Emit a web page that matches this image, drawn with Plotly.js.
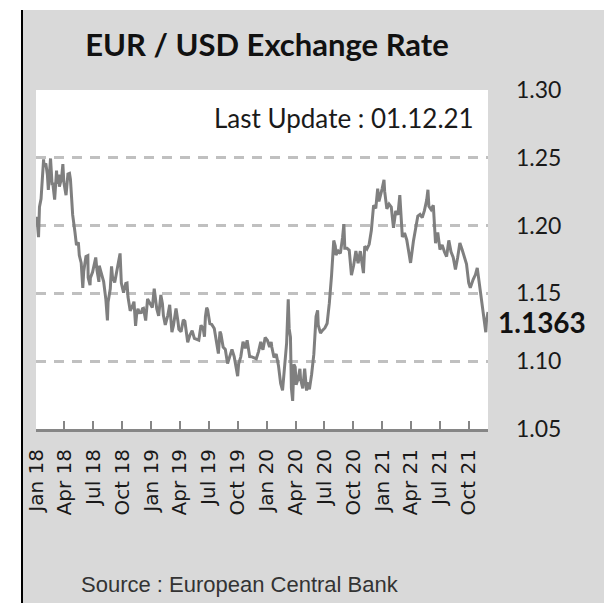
<!DOCTYPE html>
<html>
<head>
<meta charset="utf-8">
<script src="https://cdn.plot.ly/plotly-3.0.1.min.js"></script>
<style>html,body{margin:0;padding:0;background:#fff;}#chart{width:604px;height:603px;}</style>
</head>
<body>
<div id="chart"></div>
<script>
// EUR/USD reference rates
const dates = [
"2018-01-02","2018-01-05","2018-01-09","2018-01-12","2018-01-17","2018-01-19","2018-01-25","2018-01-26",
"2018-02-01","2018-02-06","2018-02-09","2018-02-16","2018-02-21","2018-02-23","2018-03-01","2018-03-07",
"2018-03-09","2018-03-14","2018-03-16","2018-03-23","2018-03-27","2018-03-30","2018-04-06","2018-04-12",
"2018-04-17","2018-04-20","2018-04-27","2018-05-04","2018-05-09","2018-05-15","2018-05-18","2018-05-24",
"2018-05-29","2018-06-01","2018-06-08","2018-06-14","2018-06-15","2018-06-21","2018-06-22","2018-06-29",
"2018-07-06","2018-07-09","2018-07-13","2018-07-19","2018-07-20","2018-07-27","2018-08-03","2018-08-10",
"2018-08-15","2018-08-17","2018-08-24","2018-08-28","2018-08-31","2018-09-07","2018-09-14","2018-09-21",
"2018-09-24","2018-09-28","2018-10-05","2018-10-12","2018-10-16","2018-10-19","2018-10-26","2018-11-02",
"2018-11-07","2018-11-12","2018-11-16","2018-11-20","2018-11-23","2018-11-30","2018-12-04","2018-12-07",
"2018-12-14","2018-12-20","2018-12-27",
"2019-01-04","2019-01-10","2019-01-15","2019-01-18","2019-01-24","2019-01-31","2019-02-05","2019-02-08",
"2019-02-14","2019-02-22","2019-02-28","2019-03-07","2019-03-12","2019-03-15","2019-03-20","2019-03-26",
"2019-03-29","2019-04-05","2019-04-12","2019-04-17","2019-04-26","2019-05-03","2019-05-10","2019-05-17",
"2019-05-23","2019-05-31","2019-06-07","2019-06-14","2019-06-18","2019-06-21","2019-06-25","2019-06-28",
"2019-07-05","2019-07-11","2019-07-19","2019-07-26","2019-08-01","2019-08-06","2019-08-09","2019-08-16",
"2019-08-23","2019-08-30","2019-09-06","2019-09-13","2019-09-20","2019-09-27","2019-10-01","2019-10-04",
"2019-10-11","2019-10-18","2019-10-25","2019-10-31","2019-11-08","2019-11-15","2019-11-22","2019-11-29",
"2019-12-06","2019-12-13","2019-12-20","2019-12-27",
"2020-01-03","2020-01-10","2020-01-15","2020-01-17","2020-01-24","2020-01-31","2020-02-07","2020-02-14",
"2020-02-20","2020-02-28","2020-03-04","2020-03-09","2020-03-12","2020-03-16","2020-03-19","2020-03-23",
"2020-03-27","2020-03-31","2020-04-03","2020-04-09","2020-04-15","2020-04-17","2020-04-24","2020-04-30",
"2020-05-06","2020-05-08","2020-05-15","2020-05-22","2020-05-29","2020-06-05","2020-06-10","2020-06-12",
"2020-06-19","2020-06-26","2020-07-03","2020-07-10","2020-07-17","2020-07-24","2020-07-31","2020-08-05",
"2020-08-07","2020-08-14","2020-08-21","2020-08-28","2020-09-01","2020-09-04","2020-09-11","2020-09-18",
"2020-09-25","2020-10-02","2020-10-09","2020-10-16","2020-10-23","2020-10-30","2020-11-02","2020-11-06",
"2020-11-13","2020-11-20","2020-11-27","2020-12-04","2020-12-11","2020-12-17","2020-12-21","2020-12-31",
"2021-01-06","2021-01-08","2021-01-15","2021-01-22","2021-01-29","2021-02-05","2021-02-12","2021-02-19",
"2021-02-25","2021-03-05","2021-03-12","2021-03-19","2021-03-26","2021-03-31","2021-04-09","2021-04-16",
"2021-04-23","2021-04-30","2021-05-07","2021-05-14","2021-05-21","2021-05-25","2021-05-28","2021-06-04",
"2021-06-11","2021-06-18","2021-06-25","2021-07-02","2021-07-09","2021-07-16","2021-07-23","2021-07-30",
"2021-08-06","2021-08-13","2021-08-20","2021-08-27","2021-09-03","2021-09-10","2021-09-17","2021-09-24",
"2021-10-01","2021-10-06","2021-10-15","2021-10-22","2021-10-28","2021-11-05","2021-11-12","2021-11-19",
"2021-11-24","2021-11-26","2021-12-01"
];
const rates = [
1.2065,1.2030,1.1915,1.2137,1.2197,1.2255,1.2488,1.2436,
1.2459,1.2375,1.2263,1.2495,1.2298,1.2316,1.2192,1.2406,
1.2309,1.2377,1.2288,1.2352,1.2454,1.2321,1.2224,1.2380,
1.2385,1.2340,1.2079,1.1957,1.1856,1.1876,1.1781,1.1725,
1.1541,1.1664,1.1772,1.1779,1.1616,1.1560,1.1613,1.1658,
1.1738,1.1765,1.1670,1.1585,1.1704,1.1652,1.1588,1.1456,
1.1301,1.1434,1.1534,1.1700,1.1622,1.1580,1.1680,1.1765,
1.1795,1.1576,1.1506,1.1574,1.1577,1.1475,1.1372,1.1405,
1.1439,1.1261,1.1361,1.1386,1.1358,1.1359,1.1387,1.1390,
1.1300,1.1459,1.1429,
1.1395,1.1535,1.1450,1.1387,1.1335,1.1488,1.1424,1.1338,
1.1268,1.1338,1.1416,1.1214,1.1265,1.1317,1.1389,1.1295,
1.1235,1.1218,1.1305,1.1294,1.1140,1.1193,1.1226,1.1168,
1.1163,1.1155,1.1265,1.1240,1.1181,1.1328,1.1394,1.1380,
1.1277,1.1271,1.1241,1.1138,1.1056,1.1219,1.1202,1.1104,
1.1087,1.0982,1.1040,1.1087,1.1034,1.0934,1.0889,1.0979,
1.1034,1.1144,1.1095,1.1154,1.1034,1.1032,1.1025,1.1018,
1.1071,1.1142,1.1084,1.1175,
1.1155,1.1104,1.1142,1.1105,1.1027,1.1052,1.0969,1.0835,
1.0785,1.0977,1.1136,1.1456,1.1240,1.1178,1.0801,1.0707,
1.0977,1.0956,1.0827,1.0867,1.0944,1.0868,1.0800,1.0946,
1.0783,1.0843,1.0792,1.0904,1.1052,1.1330,1.1375,1.1265,
1.1208,1.1229,1.1245,1.1278,1.1428,1.1631,1.1890,1.1848,
1.1783,1.1812,1.1795,1.1915,1.2011,1.1833,1.1833,1.1818,
1.1634,1.1707,1.1812,1.1722,1.1812,1.1698,1.1650,1.1848,
1.1828,1.1862,1.1965,1.2150,1.2128,1.2273,1.2179,1.2271,
1.2338,1.2254,1.2123,1.2158,1.2136,1.1983,1.2108,1.2080,
1.2225,1.1916,1.1945,1.1894,1.1793,1.1725,1.1884,1.1965,
1.2070,1.2082,1.2059,1.2112,1.2188,1.2264,1.2142,1.2118,
1.2150,1.1870,1.1950,1.1823,1.1858,1.1807,1.1771,1.1891,
1.1807,1.1765,1.1677,1.1765,1.1872,1.1824,1.1763,1.1717,
1.1577,1.1542,1.1602,1.1637,1.1688,1.1545,1.1448,1.1317,
1.1214,1.1291,1.1363
];
const tickDates = ["2018-01-01","2018-04-01","2018-07-01","2018-10-01","2019-01-01","2019-04-01","2019-07-01","2019-10-01",
"2020-01-01","2020-04-01","2020-07-01","2020-10-01","2021-01-01","2021-04-01","2021-07-01","2021-10-01"];
const tickLabels = ["Jan 18","Apr 18","Jul 18","Oct 18","Jan 19","Apr 19","Jul 19","Oct 19",
"Jan 20","Apr 20","Jul 20","Oct 20","Jan 21","Apr 21","Jul 21","Oct 21"];
const yTicks = [1.05,1.10,1.15,1.20,1.25,1.30];
const yTickLabels = ["1.05","1.10","1.15","1.20","1.25","1.30"];
const titleText = "EUR / USD Exchange Rate";
const updateText = "Last Update : 01.12.21";
const sourceText = "Source : European Central Bank";
const lastValue = rates[rates.length - 1];
const lastLabel = lastValue.toFixed(4);

const W = 604, H = 603, ML = 36, MR = 116, MT = 90, MB = 174;
const PW = W - ML - MR, PH = H - MT - MB;
const px = v => (v - ML) / PW;           // pixel x -> paper x
const py = v => (H - MB - v) / PH;       // pixel y -> paper y

const trace = {
  x: dates, y: rates, type: "scatter", mode: "lines",
  line: {color: "#7f7f7f", width: 3}, hoverinfo: "skip"
};

const layout = {
  width: W, height: H,
  margin: {l: ML, r: MR, t: MT, b: MB, pad: 0},
  paper_bgcolor: "#d9d9d9",
  plot_bgcolor: "#ffffff",
  showlegend: false,
  title: {
    text: "<b>" + titleText + "</b>",
    font: {family: "Lato, 'Open Sans', sans-serif", size: 31, color: "#111"},
    xref: "container", yref: "container",
    x: 267 / W, xanchor: "center", y: 1 - 45 / H, yanchor: "middle"
  },
  xaxis: {
    type: "date", range: ["2018-01-01", "2021-12-01"],
    tickmode: "array", tickvals: tickDates, ticktext: tickLabels,
    tickangle: -90,
    tickfont: {family: "'DejaVu Sans', Verdana, sans-serif", size: 20, color: "#1a1a1a"},
    ticks: "inside", ticklen: 8, tickwidth: 2, tickcolor: "#868686",
    showline: true, linecolor: "#868686", linewidth: 3,
    showgrid: false, zeroline: false, fixedrange: true,
    ticklabelstandoff: 9
  },
  yaxis: {
    side: "right", range: [1.05, 1.30],
    tickmode: "array", tickvals: yTicks, ticktext: yTickLabels,
    tickfont: {family: "Lato, 'Open Sans', sans-serif", size: 23, color: "#1a1a1a"},
    ticks: "", showline: false, zeroline: false,
    showgrid: true, gridcolor: "#c0c0c0", gridwidth: 3, griddash: "10px,8px",
    ticklabelstandoff: 27, fixedrange: true
  },
  shapes: [
    {type: "rect", xref: "paper", yref: "paper", x0: px(-5), x1: px(W + 5), y0: py(10), y1: py(-5),
     fillcolor: "#ffffff", line: {width: 0}, layer: "below"},
    {type: "rect", xref: "paper", yref: "paper", x0: px(-5), x1: px(21), y0: py(H + 5), y1: py(-5),
     fillcolor: "#ffffff", line: {width: 0}, layer: "below"},
    {type: "line", xref: "paper", yref: "paper", x0: px(22), x1: px(22), y0: py(10), y1: py(H + 5),
     line: {color: "#000000", width: 2}}
  ],
  annotations: [
    {text: updateText, xref: "paper", yref: "paper", x: px(476), y: py(118),
     xanchor: "right", yanchor: "middle", showarrow: false,
     font: {family: "Lato, 'Open Sans', sans-serif", size: 26, color: "#1a1a1a"}},
    {text: "<b>" + lastLabel + "</b>", xref: "paper", yref: "y", x: px(496), y: lastValue,
     yshift: -10, xanchor: "left", yanchor: "middle", showarrow: false,
     font: {family: "Lato, 'Open Sans', sans-serif", size: 28, color: "#111"}},
    {text: sourceText, xref: "paper", yref: "paper", x: px(79), y: py(584),
     xanchor: "left", yanchor: "middle", showarrow: false,
     font: {family: "'Liberation Sans', Arial, sans-serif", size: 22, color: "#333"}}
  ]
};

Plotly.newPlot("chart", [trace], layout, {staticPlot: true, displayModeBar: false});
</script>
</body>
</html>
